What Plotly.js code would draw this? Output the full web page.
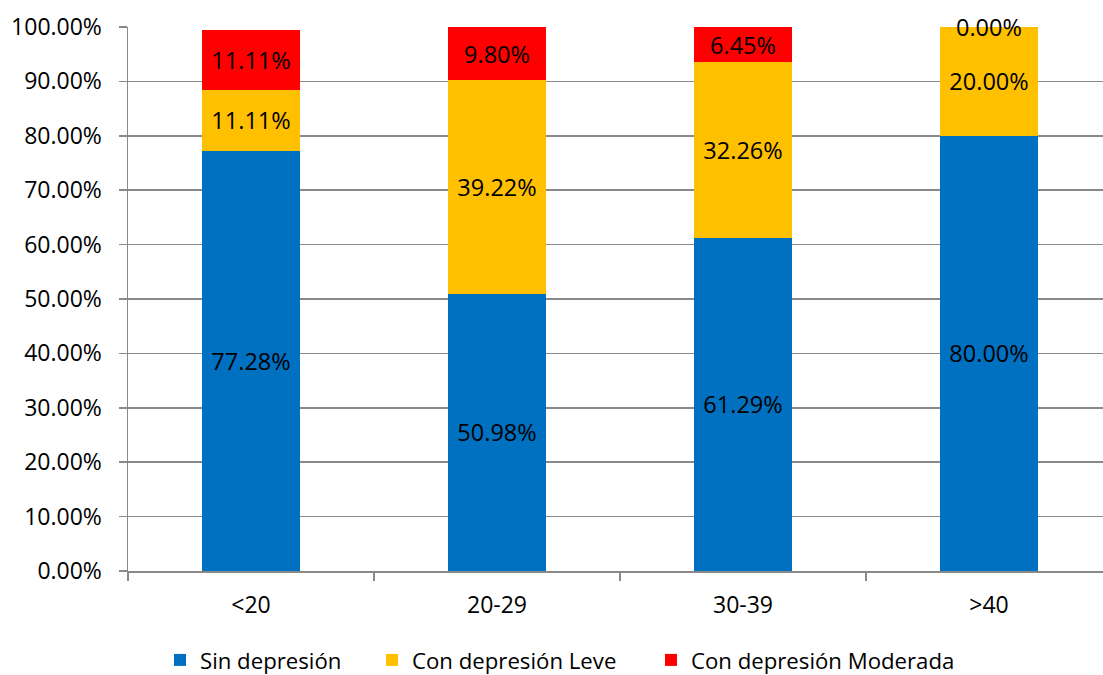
<!DOCTYPE html>
<html>
<head>
<meta charset="utf-8">
<script src="https://cdn.plot.ly/plotly-3.0.1.min.js"></script>
<style>html,body{margin:0;padding:0;background:#fff;}#chart{width:1103px;height:675px;}</style>
</head>
<body>
<div id="chart"></div>
<script>
var categories = ['<20', '20-29', '30-39', '>40'];
var seriesNames = ['Sin depresión', 'Con depresión Leve', 'Con depresión Moderada'];
var sinDepresion = [77.28, 50.98, 61.29, 80.00];
var depresionLeve = [11.11, 39.22, 32.26, 20.00];
var depresionModerada = [11.11, 9.80, 6.45, 0.00];
var yTicks = [0, 10, 20, 30, 40, 50, 60, 70, 80, 90, 100];

var seriesValues = [sinDepresion, depresionLeve, depresionModerada];
var colors = ['#0070C0', '#FFC000', '#FF0000'];
var legendIds = ['legend', 'legend2', 'legend3'];
var FONT = '"Open Sans", "Liberation Sans", sans-serif';

function fmt(v) { return v.toFixed(2) + '%'; }

var traces = seriesValues.map(function (vals, i) {
  return {
    type: 'bar',
    name: seriesNames[i],
    x: categories,
    y: vals,
    width: 0.4,
    marker: { color: colors[i], line: { width: 0 } },
    text: vals.map(fmt),
    textposition: 'inside',
    insidetextanchor: 'middle',
    textangle: 0,
    constraintext: 'none',
    textfont: { family: FONT, size: 23.5, color: '#000' },
    legend: legendIds[i],
    hoverinfo: 'skip'
  };
});

// labels for zero-height segments (drawn at the segment position)
var annotations = [];
categories.forEach(function (c, j) {
  var cum = 0;
  seriesValues.forEach(function (vals) {
    if (vals[j] === 0) {
      annotations.push({
        x: c, y: cum, xref: 'x', yref: 'y', text: fmt(vals[j]), showarrow: false,
        yanchor: 'middle', xanchor: 'center',
        font: { family: FONT, size: 23.5, color: '#000' }
      });
    }
    cum += vals[j];
  });
});

function leg(x) {
  return {
    orientation: 'h', x: x, xanchor: 'left', y: -0.1636, yanchor: 'middle',
    font: { family: FONT, size: 22.2, color: '#000' }, bgcolor: 'rgba(0,0,0,0)',
    borderwidth: 0, itemclick: false, itemdoubleclick: false
  };
}

var layout = {
  width: 1103, height: 675,
  margin: { l: 128, r: 0, t: 27, b: 104, pad: 0, autoexpand: false },
  paper_bgcolor: '#fff', plot_bgcolor: '#fff',
  barmode: 'stack',
  font: { family: FONT, size: 22, color: '#000' },
  showlegend: true,
  legend: leg(0.0328),
  legend2: leg(0.2503),
  legend3: leg(0.5364),
  xaxis: {
    type: 'category',
    range: [-0.5, -0.5 + 975 / 246],
    showgrid: false,
    showline: true, linecolor: '#898989', linewidth: 1.5,
    ticks: 'outside', tickson: 'boundaries', ticklen: 8, tickcolor: '#898989', tickwidth: 1.5,
    ticklabelstandoff: 13,
    tickfont: { family: FONT, size: 23, color: '#000' },
    fixedrange: true
  },
  yaxis: {
    range: [0, 100],
    tickvals: yTicks,
    ticktext: yTicks.map(fmt),
    showgrid: true, gridcolor: '#898989', gridwidth: 1.5,
    zeroline: false,
    showline: true, linecolor: '#898989', linewidth: 1.5,
    ticks: 'outside', ticklen: 8, tickcolor: '#898989', tickwidth: 1.5,
    ticklabelstandoff: 12,
    tickfont: { family: FONT, size: 23, color: '#000' },
    fixedrange: true
  },
  annotations: annotations,
  hovermode: false
};

Plotly.newPlot('chart', traces, layout, { displayModeBar: false, staticPlot: true });
</script>
</body>
</html>
